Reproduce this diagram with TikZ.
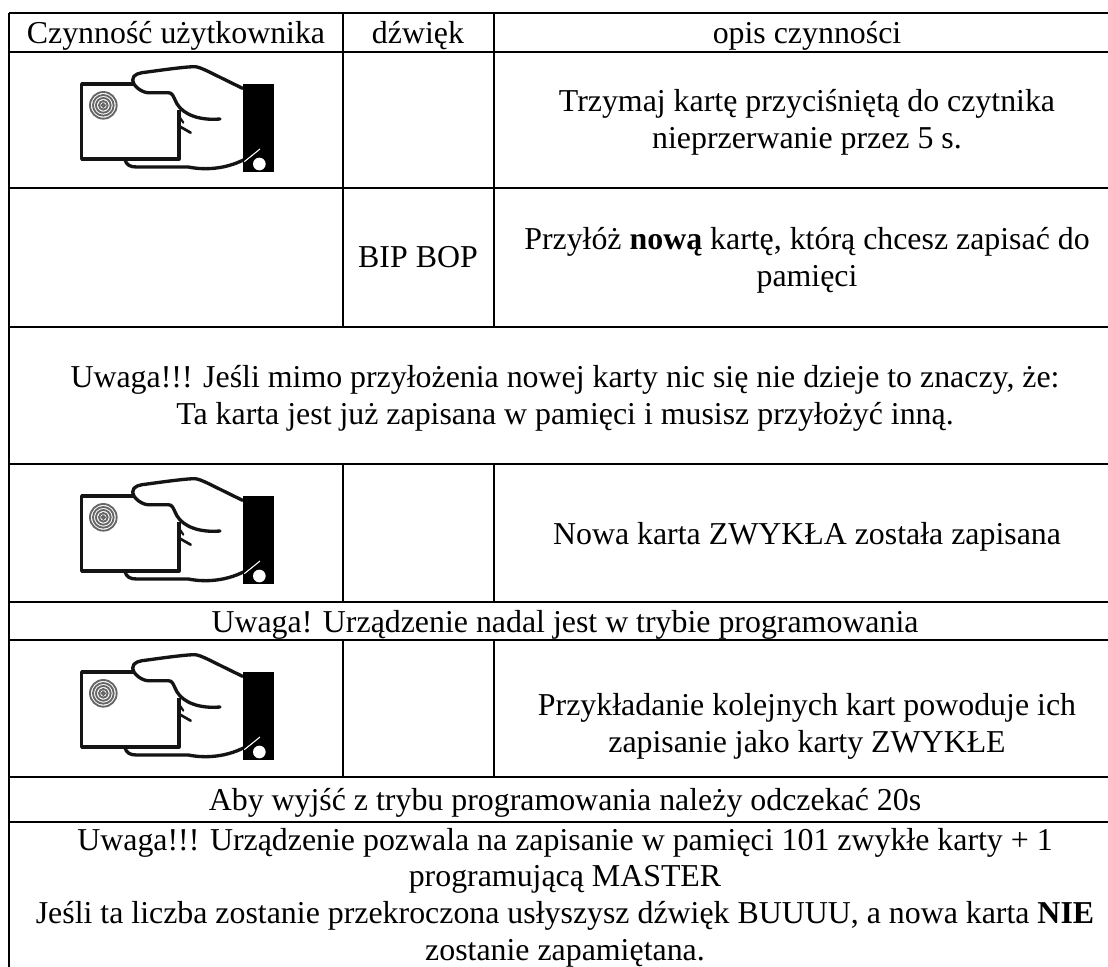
\documentclass[tikz,border=0pt]{standalone}
\usepackage{fontspec}
\setmainfont{Liberation Serif}
\tikzset{
  x=0.75pt,y=-0.75pt,
  rule/.style={line width=1.7pt,black,line cap=butt},
  lbl/.style={inner sep=0pt,outer sep=0pt,anchor=base,align=center,font=\fontsize{23.9}{27.4}\selectfont},
  handline/.style={line width=2.5pt,black!92,line cap=round,line join=round},
  ring/.style={line width=1.4pt,black!60}
}
\newcommand{\handicon}[1]{%
 \begin{scope}[shift={(60,#1)},x=0.25pt,y=-0.25pt]
  % card
  \draw[handline,line cap=butt] (222,102) -- (65,102) -- (65,327) -- (357,327) -- (357,180);
  % spiral target
  \foreach \r in {40,31,22,13,5}{\draw[ring] (130,166) circle (\r);}
  % thumb and back of the hand
  \draw[handline] (480,207) .. controls (420,212) and (370,195) .. (350,160)
     .. controls (340,140) and (338,128) .. (325,128) -- (262,128)
     .. controls (240,125) and (218,105) .. (218,90)
     .. controls (218,72) and (240,68) .. (262,66)
     .. controls (320,58) and (380,50) .. (405,50)
     .. controls (425,52) and (450,68) .. (548,115);
  % finger marks
  \draw[handline,line width=2pt] (357,228) -- (392,248);
  \draw[handline,line width=1.6pt] (357,198) -- (370,218);
  % lower fingers and palm
  \draw[handline] (195,330) .. controls (200,345) and (210,351) .. (230,351)
     -- (385,351) .. controls (440,362) and (500,355) .. (550,330);
  % cuff
  \fill[black] (548,103) rectangle (641,365);
  \draw[white,line width=0.8pt] (553,335) -- (600,297);
  \fill[white] (598,342) circle (19);
 \end{scope}}
\begin{document}
\begin{tikzpicture}
\useasboundingbox (0,0) rectangle (1108,967);
\fill[white] (0,0) rectangle (1108,967);
% outline and horizontal rules
\foreach \yy in {13,52,188,327,464,602,640,777,822}{\draw[rule] (9,\yy) -- (1108,\yy);}
\draw[rule] (9,13) -- (9,967);
\foreach \xx in {343,494}{
  \draw[rule] (\xx,13) -- (\xx,327);
  \draw[rule] (\xx,464) -- (\xx,602);
  \draw[rule] (\xx,640) -- (\xx,777);
}
% hands
\handicon{50}
\handicon{462}
\handicon{638}
% text
\node[lbl] (h1) at (176,43) {Czynność użytkownika};
\node[lbl] (h2) at (418,43) {dźwięk};
\node[lbl] (h3) at (807,43) {opis czynności};
\node[lbl] (t1) at (807,148) {Trzymaj kartę przyciśniętą do czytnika\\nieprzerwanie przez 5 s.};
\node[lbl] (bip) at (418,267) {BIP BOP};
\node[lbl] (t2) at (807,286) {Przyłóż \textbf{nową} kartę, którą chcesz zapisać do\\pamięci};
\node[lbl] (t3) at (565,424) {Uwaga!!! Jeśli mimo przyłożenia nowej karty nic się nie dzieje to znaczy, że:\\Ta karta jest już zapisana w pamięci i musisz przyłożyć inną.};
\node[lbl] (t4) at (807,544) {Nowa karta ZWYKŁA została zapisana};
\node[lbl] (t5) at (565,632) {Uwaga! Urządzenie nadal jest w trybie programowania};
\node[lbl] (t6) at (807,752) {Przykładanie kolejnych kart powoduje ich\\zapisanie jako karty ZWYKŁE};
\node[lbl] (t7) at (565,810) {Aby wyjść z trybu programowania należy odczekać 20s};
\node[lbl] (t8) at (565,960) {Uwaga!!! Urządzenie pozwala na zapisanie w pamięci 101 zwykłe karty + 1\\programującą MASTER\\Jeśli ta liczba zostanie przekroczona usłyszysz dźwięk BUUUU, a nowa karta \textbf{NIE}\\zostanie zapamiętana.};
\end{tikzpicture}
\end{document}
